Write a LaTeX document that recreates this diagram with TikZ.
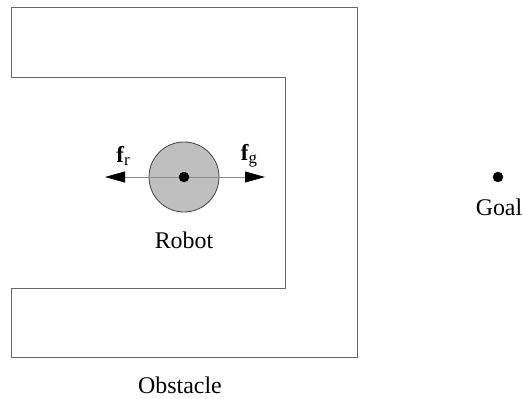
\documentclass[tikz,border=0pt]{standalone}
\usepackage{fontspec}
\setmainfont{Liberation Serif}
\usetikzlibrary{arrows.meta}
\newcommand{\forcelbl}[1]{\textbf{f}\raisebox{-0.3ex}{\fontsize{17}{20}\selectfont #1}}
\begin{document}
\begin{tikzpicture}[x=1bp,y=-1bp,
  wall/.style={draw=black!60,line width=1bp},
  lbl/.style={inner sep=0pt,font=\fontsize{24}{28}\selectfont},
  flbl/.style={inner sep=0pt,font=\fontsize{23}{26}\selectfont},
  force/.style={draw=black!45,line width=0.8bp,-{Triangle[length=20bp,width=11bp,fill=black,color=black]}},
  dotnode/.style={circle,fill=black,inner sep=0pt,minimum size=10.5bp}]
\useasboundingbox (0,0) rectangle (523,398);
\draw[wall] (11,77) -- (11,7) -- (357,7) -- (357,357) -- (11,357) -- (11,288) -- (285,288) -- (285,77) -- cycle;
\node[circle,draw=black!75,fill=black!25,line width=0.8bp,minimum size=70bp,inner sep=0pt] (robot) at (184,177) {};
\coordinate (fr) at (105,177);
\coordinate (fg) at (265,177);
\draw[force] (robot.center) -- (fr);
\draw[force] (robot.center) -- (fg);
\node[dotnode] (rc) at (184,177) {};
\node[flbl] (lfr) at (123,156) {\forcelbl{r}};
\node[flbl] (lfg) at (249,156) {\forcelbl{g}};
\node[lbl] (rlabel) at (184,240) {Robot};
\node[dotnode] (goal) at (498,177) {};
\node[lbl] (glabel) at (499,207) {Goal};
\node[lbl] (olabel) at (180,385) {Obstacle};
\end{tikzpicture}
\end{document}
